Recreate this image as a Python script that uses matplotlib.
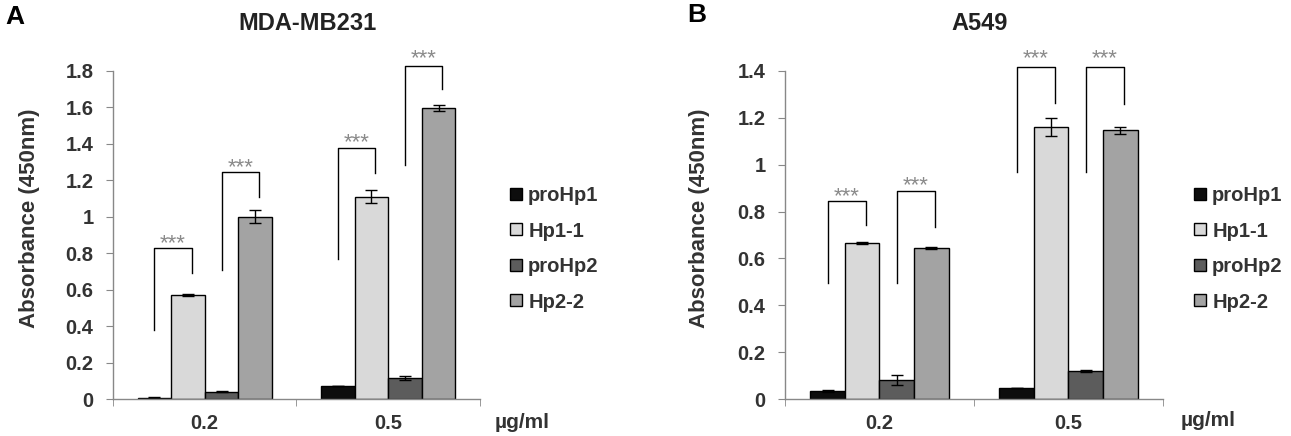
import numpy as np
import matplotlib.pyplot as plt
from matplotlib.lines import Line2D
from matplotlib.transforms import offset_copy

plt.rcParams['font.family'] = ['Liberation Sans', 'DejaVu Sans']

doses = ['0.2', '0.5']
series = ['proHp1', 'Hp1-1', 'proHp2', 'Hp2-2']
colors = ['#0d0d0d', '#d9d9d9', '#5c5c5c', '#a3a3a3']

# MDA-MB231 values / errors (rows = series, cols = dose)
mda_vals = [[0.007, 0.071], [0.571, 1.11], [0.04, 0.115], [1.0, 1.597]]
mda_err = [[0.003, 0.0], [0.004, 0.035], [0.004, 0.01], [0.035, 0.015]]
# A549
a549_vals = [[0.035, 0.048], [0.666, 1.161], [0.081, 0.12], [0.645, 1.148]]
a549_err = [[0.004, 0.0], [0.003, 0.04], [0.02, 0.004], [0.003, 0.015]]

# significance brackets: (dose index, left series, right series, left bottom, top, right bottom, star y)
mda_sig = [(0, 0, 1, 0.38, 0.83, 0.69, 0.885),
           (0, 2, 3, 0.71, 1.245, 1.11, 1.30),
           (1, 0, 1, 0.77, 1.375, 1.24, 1.44),
           (1, 2, 3, 1.285, 1.83, 1.70, 1.90)]
a549_sig = [(0, 0, 1, 0.495, 0.845, 0.743, 0.89),
            (0, 2, 3, 0.495, 0.888, 0.734, 0.935),
            (1, 0, 1, 0.97, 1.417, 1.263, 1.477),
            (1, 2, 3, 0.97, 1.417, 1.26, 1.477)]

fig = plt.figure(figsize=(12.91, 4.36), dpi=100)

w = 0.183
x = np.arange(len(doses))


def fmt(v):
    s = ('%.1f' % v)
    return s[:-2] if s.endswith('.0') else s


def panel(rect, vals, errs, sig, ymax, yticks):
    ax = fig.add_axes(rect)
    for i, name in enumerate(series):
        xi = x + (i - 1.5) * w
        ax.bar(xi, vals[i], w, color=colors[i], edgecolor='black', linewidth=1.0,
               yerr=errs[i], capsize=4, error_kw=dict(ecolor='black', elinewidth=1.0, capthick=1.0),
               label=name, zorder=2)
    star_tr = offset_copy(ax.transData, fig=fig, x=0, y=-6, units='dots')
    for d, a, b, lb, top, rb, sy in sig:
        xa = x[d] + (a - 1.5) * w
        xb = x[d] + (b - 1.5) * w + 0.02
        ax.plot([xa, xa, xb, xb], [lb, top, top, rb], color='black', lw=1.0, clip_on=False, zorder=3)
        ax.text((xa + xb) / 2, sy, '***', ha='center', va='center', fontsize=16,
                color='#8a8a8a', clip_on=False, transform=star_tr)
    ax.set_xlim(-0.5, 1.5)
    ax.set_ylim(0, ymax)
    ax.set_yticks(yticks)
    ax.set_yticklabels([fmt(t) for t in yticks], fontsize=14.5, fontweight='bold', color='#333333')
    ax.set_xticks(x)
    ax.set_xticklabels(doses, fontsize=14.5, fontweight='bold', color='#333333')
    ax.set_xticks([-0.5, 0.5, 1.5], minor=True)
    ax.tick_params(axis='x', which='major', length=0, pad=11)
    ax.tick_params(axis='x', which='minor', length=5, color='#888888', direction='out')
    ax.tick_params(axis='y', length=5, color='#888888', direction='out', pad=9)
    for s in ['top', 'right']:
        ax.spines[s].set_visible(False)
    for s in ['left', 'bottom']:
        ax.spines[s].set_color('#888888')
        ax.spines[s].set_linewidth(1.0)
    return ax


bottom = 1 - 399 / 436
height = 328 / 436
axA = panel([113 / 1291, bottom, 367 / 1291, height], mda_vals, mda_err, mda_sig, 1.8,
            np.arange(0, 1.81, 0.2))
axB = panel([785 / 1291, bottom, 378 / 1291, height], a549_vals, a549_err, a549_sig, 1.4,
            np.arange(0, 1.41, 0.2))

handles = [Line2D([], [], marker='s', ls='none', markersize=8, markerfacecolor=c,
                  markeredgecolor='black', markeredgewidth=1.0) for c in colors]
for lx in [510 / 1291, 1194 / 1291]:
    fig.legend(handles, series, loc='upper left', bbox_to_anchor=(lx, 1 - 186 / 436),
               frameon=False, handlelength=0.6, handletextpad=0.3, labelspacing=0.82,
               borderpad=0, borderaxespad=0,
               prop=dict(size=14.5, weight='bold'), labelcolor='#333333')

fig.text(307 / 1291, 1 - 23 / 436, 'MDA-MB231', ha='center', va='center', fontsize=17,
         fontweight='bold', color='#222222')
fig.text(980 / 1291, 1 - 23 / 436, 'A549', ha='center', va='center', fontsize=17,
         fontweight='bold', color='#222222')
fig.text(15 / 1291, 1 - 17 / 436, 'A', ha='center', va='center', fontsize=19, fontweight='bold')
fig.text(697 / 1291, 1 - 15 / 436, 'B', ha='center', va='center', fontsize=19, fontweight='bold')
fig.text(30 / 1291, 1 - 218 / 436, 'Absorbance (450nm)', rotation=90, ha='center', va='center',
         fontsize=16, fontweight='bold', color='#333333')
fig.text(700 / 1291, 1 - 218 / 436, 'Absorbance (450nm)', rotation=90, ha='center', va='center',
         fontsize=16, fontweight='bold', color='#333333')
fig.text(522 / 1291, 1 - 422 / 436, 'µg/ml', ha='center', va='center', fontsize=15,
         fontweight='bold', color='#333333')
fig.text(1208 / 1291, 1 - 420 / 436, 'µg/ml', ha='center', va='center', fontsize=15,
         fontweight='bold', color='#333333')

fig.savefig('out.png', dpi=100)
